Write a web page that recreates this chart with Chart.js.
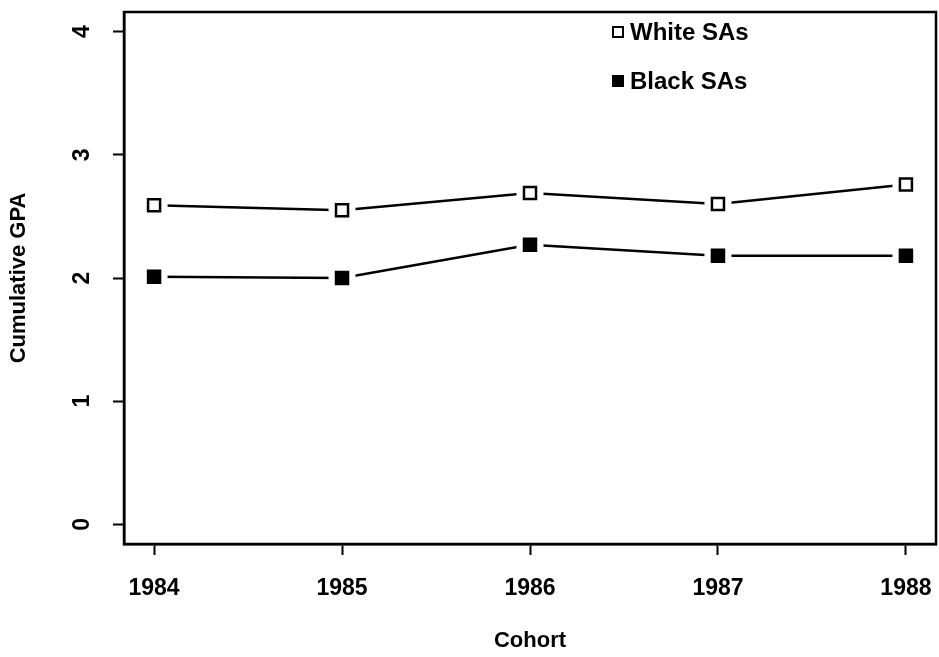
<!DOCTYPE html>
<html>
<head>
<meta charset="utf-8">
<script src="https://cdn.jsdelivr.net/npm/chart.js@4/dist/chart.umd.min.js"></script>
<style>
  html, body { margin: 0; padding: 0; background: #fff; }
  #wrap { width: 939px; height: 657px; }
</style>
</head>
<body>
<div id="wrap"><canvas id="gpaChart" width="939" height="657"></canvas></div>
<script>
// ── data ──
const YEARS = [1984, 1985, 1986, 1987, 1988];
const WHITE_GPA = [2.59, 2.55, 2.69, 2.60, 2.76];
const BLACK_GPA = [2.01, 2.00, 2.27, 2.18, 2.18];
const Y_TICKS = [0, 1, 2, 3, 4];
const SERIES_LABELS = ['White SAs', 'Black SAs'];

const FONT = "'Liberation Sans', Arial, sans-serif";
const pts = vals => YEARS.map((yr, i) => ({x: yr, y: vals[i]}));

// line with white halo at each point (gives the gap around markers)
const lineSet = vals => ({
    data: pts(vals), order: 2,
    borderColor: '#000', borderWidth: 2.5,
    pointStyle: 'rect', pointRadius: 8.5,
    pointBackgroundColor: '#fff', pointBorderColor: '#fff', pointBorderWidth: 15
});
const markerSet = (vals, fill) => ({
    data: pts(vals), order: 1, showLine: false,
    pointStyle: 'rect', pointRadius: 8.5,
    pointBackgroundColor: fill, pointBorderColor: '#000', pointBorderWidth: 2.5
});

// fixed axis sizes, no extra room reserved for edge labels
const fixSize = (w, h) => s => {
    if (w) s.width = w;
    if (h) s.height = h;
    s.paddingLeft = s.paddingRight = s.paddingTop = s.paddingBottom = 0;
};

// box around the plot region + legend in the top right
const framePlugin = {
    id: 'frame',
    afterDraw(chart) {
        const {ctx, chartArea: a} = chart;
        ctx.save();
        ctx.strokeStyle = '#000';
        ctx.lineWidth = 2.5;
        ctx.strokeRect(a.left, a.top, a.right - a.left, a.bottom - a.top);

        const fills = ['#fff', '#000'];
        const rows = [32, 81];
        ctx.font = 'bold 24px ' + FONT;
        ctx.textBaseline = 'middle';
        SERIES_LABELS.forEach((lab, i) => {
            const cx = 618, cy = rows[i];
            ctx.fillStyle = fills[i];
            ctx.fillRect(cx - 5, cy - 5, 10, 10);
            ctx.lineWidth = 2;
            ctx.strokeRect(cx - 5, cy - 5, 10, 10);
            ctx.fillStyle = '#000';
            ctx.fillText(lab, 630, cy + 1);
        });
        ctx.restore();
    }
};

new Chart(document.getElementById('gpaChart'), {
    type: 'line',
    data: {
        datasets: [
            lineSet(WHITE_GPA), lineSet(BLACK_GPA),
            markerSet(WHITE_GPA, '#fff'), markerSet(BLACK_GPA, '#000')
        ]
    },
    options: {
        responsive: false, animation: false,
        layout: {autoPadding: false, padding: {top: 12, right: 3, left: 0, bottom: 0}},
        plugins: {legend: {display: false}, tooltip: {enabled: false}},
        scales: {
            x: {
                type: 'linear', min: 1983.84, max: 1988.16,
                afterBuildTicks: s => { s.ticks = YEARS.map(v => ({value: v})); },
                afterFit: fixSize(0, 113),
                grid: {drawOnChartArea: false, drawTicks: true, tickLength: 11, tickColor: '#000', tickWidth: 2},
                border: {color: '#000', width: 2.5},
                ticks: {color: '#000', padding: 20, maxRotation: 0, font: {family: FONT, size: 23, weight: 'bold'},
                    callback: v => String(v)},
                title: {display: true, text: 'Cohort', color: '#000', padding: {top: 0, bottom: 3},
                    font: {family: FONT, size: 22, weight: 'bold'}}
            },
            y: {
                min: -0.16, max: 4.16,
                afterBuildTicks: s => { s.ticks = Y_TICKS.map(v => ({value: v})); },
                afterFit: fixSize(124, 0),
                grid: {drawOnChartArea: false, drawTicks: true, tickLength: 11, tickColor: '#000', tickWidth: 2},
                border: {color: '#000', width: 2.5},
                ticks: {color: '#000', padding: 24, minRotation: 90, maxRotation: 90, crossAlign: 'center',
                    font: {family: FONT, size: 23, weight: 'bold'}, callback: v => String(v)},
                title: {display: true, text: 'Cumulative GPA', color: '#000', padding: {top: 6, bottom: 0},
                    font: {family: FONT, size: 22, weight: 'bold'}}
            }
        }
    },
    plugins: [framePlugin]
});
</script>
</body>
</html>
